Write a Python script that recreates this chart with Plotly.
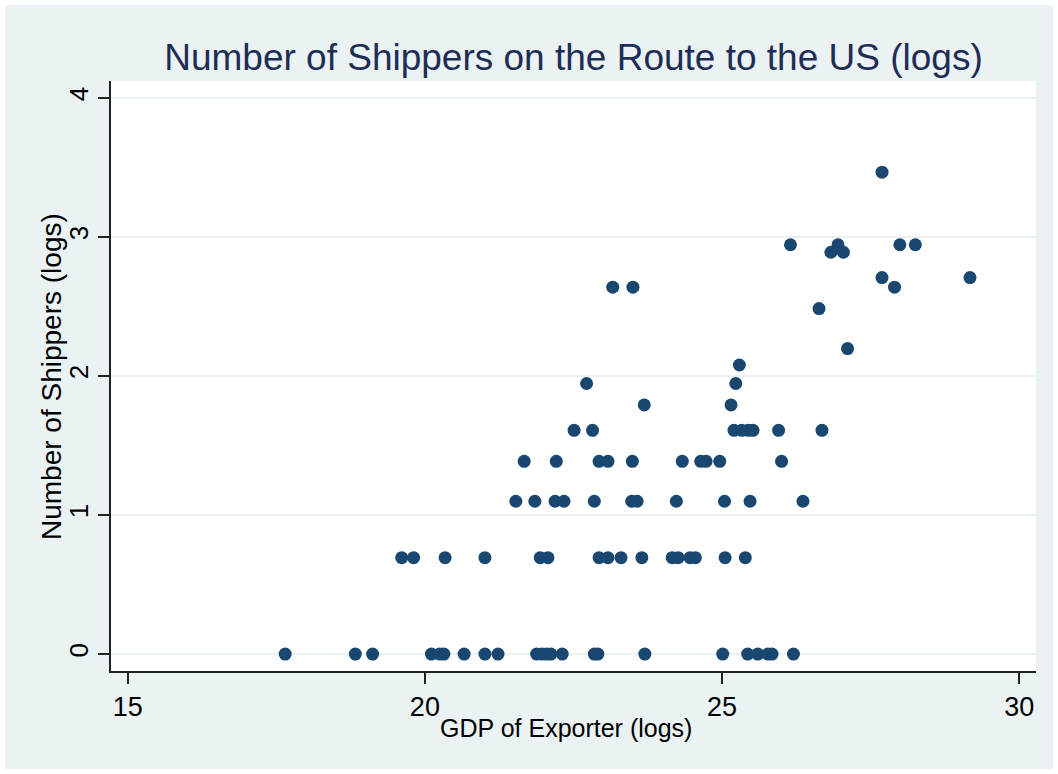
import plotly.graph_objects as go

# y-levels are logs of shipper counts; x values
row_0 = [17.65, 18.83, 19.12, 20.11, 20.25, 20.32, 20.66, 21.01, 21.23, 21.88, 21.97,
         22.05, 22.12, 22.31, 22.85, 22.91, 23.70, 25.01, 25.43, 25.60, 25.77, 25.84, 26.20]
row_069 = [19.61, 19.81, 20.34, 21.01, 21.94, 22.07, 22.93, 23.08, 23.30, 23.65, 24.16,
           24.26, 24.46, 24.55, 25.05, 25.39]
row_110 = [21.53, 21.85, 22.19, 22.34, 22.85, 23.48, 23.57, 24.23, 25.04, 25.47, 26.36]
row_139 = [21.67, 22.21, 22.93, 23.08, 23.49, 24.33, 24.64, 24.73, 24.96, 26.00]
row_161 = [22.51, 22.82, 25.20, 25.33, 25.44, 25.52, 25.95, 26.68]
row_179 = [23.69, 25.15]
row_195 = [22.72, 25.23]
row_208 = [25.29]
row_220 = [27.11]
row_248 = [26.63]
row_264 = [23.16, 23.50, 27.90]
row_271 = [27.69, 29.17]
row_289 = [26.83, 27.04]
row_294 = [26.15, 26.95, 27.99, 28.25]
row_347 = [27.69]

rows = [
    (0.0, row_0), (0.693, row_069), (1.099, row_110), (1.386, row_139),
    (1.609, row_161), (1.792, row_179), (1.946, row_195), (2.079, row_208),
    (2.197, row_220), (2.485, row_248), (2.639, row_264), (2.708, row_271),
    (2.890, row_289), (2.944, row_294), (3.466, row_347),
]

gdp = []
shippers = []
for level, xs in rows:
    for xv in xs:
        gdp.append(xv)
        shippers.append(level)

x_ticks = [15, 20, 25, 30]
y_ticks = [0, 1, 2, 3, 4]

FONT = "Liberation Sans, Arial, sans-serif"
NAVY = "#1a476f"
BG = "#eaf2f3"

fig = go.Figure()
fig.add_trace(go.Scatter(
    x=gdp, y=shippers, mode="markers",
    marker=dict(size=13, color=NAVY, line=dict(width=0)),
    showlegend=False,
))

L, R, T, B = 111, 22, 81, 103
W, H = 1058, 774
pw, ph = W - L - R, H - T - B

def px_x(p):
    return (p - L) / pw

def px_y(p):
    return (H - B - p) / ph

fig.add_shape(type="rect", xref="paper", yref="paper",
              x0=px_x(5), x1=px_x(W - 5), y0=px_y(H - 5), y1=px_y(5),
              fillcolor=BG, line=dict(width=0), layer="below")
fig.add_shape(type="rect", xref="paper", yref="paper",
              x0=0, x1=1, y0=0, y1=1,
              fillcolor="white", line=dict(width=0), layer="below")

fig.add_annotation(text="GDP of Exporter (logs)", xref="paper", yref="paper",
                   x=px_x(566), y=px_y(728), xanchor="center", yanchor="middle",
                   showarrow=False, font=dict(size=25, family=FONT, color="black"))
fig.add_annotation(text="Number of Shippers (logs)", xref="paper", yref="paper",
                   x=px_x(51), y=px_y(377), xanchor="center", yanchor="middle",
                   textangle=-90, showarrow=False,
                   font=dict(size=28, family=FONT, color="black"))

fig.update_layout(
    width=W, height=H,
    margin=dict(l=L, r=R, t=T, b=B),
    paper_bgcolor="white",
    plot_bgcolor="white",
    font=dict(family=FONT, color="black"),
    title=dict(text="Number of Shippers on the Route to the US (logs)",
               x=0.5, xref="paper", xanchor="center",
               y=1 - 57 / H, yanchor="middle",
               font=dict(size=37, color="#1e2d55", family=FONT)),
)
fig.update_xaxes(
    range=[14.72, 30.28], tickvals=x_ticks, ticktext=[str(v) for v in x_ticks],
    showgrid=False, zeroline=False,
    showline=True, linecolor="#222222", linewidth=1.5,
    ticks="outside", ticklen=11, tickcolor="#222222", tickwidth=1.5,
    tickfont=dict(size=27, family=FONT, color="black"),
)
fig.update_yaxes(
    range=[-0.122, 4.122], tickvals=y_ticks, ticktext=[str(v) for v in y_ticks],
    showgrid=True, gridcolor=BG, gridwidth=2, zeroline=False,
    showline=True, linecolor="#222222", linewidth=1.5,
    ticks="outside", ticklen=11, tickcolor="#222222", tickwidth=1.5,
    tickangle=-90,
    tickfont=dict(size=26, family=FONT, color="black"),
)

fig.write_html("out.html")
